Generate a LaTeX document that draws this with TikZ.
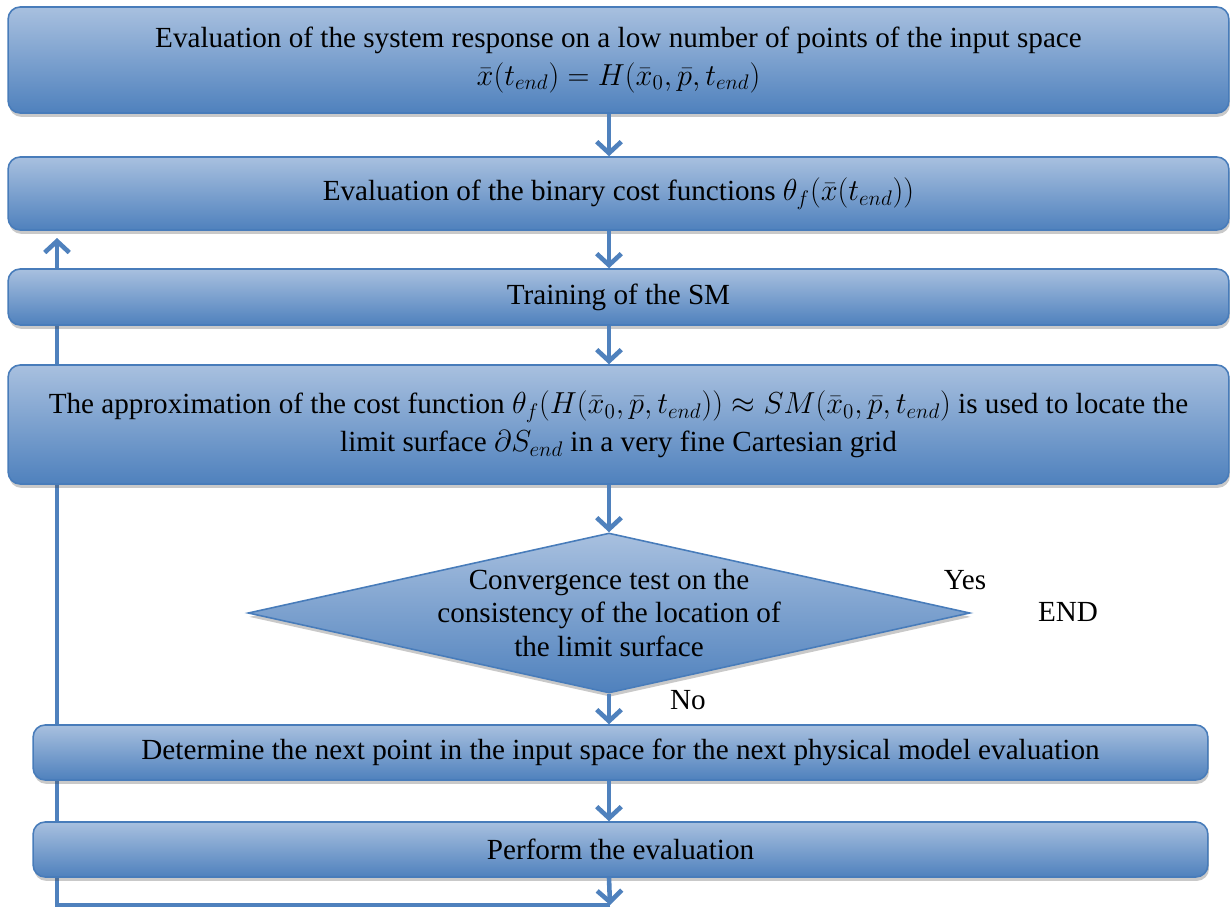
\documentclass[tikz,border=0pt]{standalone}
\usepackage{fontspec}
\setmainfont{Liberation Serif}
\usetikzlibrary{positioning}
\usetikzlibrary{shapes.geometric, shadows, arrows.meta, backgrounds}

\definecolor{boxtop}{RGB}{168,192,223}
\definecolor{boxbot}{RGB}{79,129,189}
\definecolor{boxline}{RGB}{72,124,186}

\tikzset{
  stepbox/.style={rectangle, rounded corners=0.24cm, draw=boxline, line width=0.9pt,
    top color=boxtop, bottom color=boxbot, inner sep=0pt, align=center,
    drop shadow={shadow xshift=0.6pt, shadow yshift=-2.2pt, opacity=0.3, fill=black!70}},
  testbox/.style={diamond, draw=boxline, line width=0.9pt, inner sep=0pt,
    top color=boxtop, bottom color=boxbot,
    drop shadow={shadow xshift=0.6pt, shadow yshift=-2.2pt, opacity=0.3, fill=black!70}},
  flow/.style={draw=boxbot, line width=2.6pt, -{Straight Barb[length=6.5pt,width=14pt]}},
  lbl/.style={font=\fontsize{16.6}{19.3}\selectfont}
}

\begin{document}
\begin{tikzpicture}[x=0.02cm, y=-0.02cm, font=\fontsize{16.6}{21.5}\selectfont]
\useasboundingbox (0,0) rectangle (1231,909);

\node[stepbox, minimum width=24.42cm, minimum height=2.12cm] (eval) at (618.5,60)
  {Evaluation of the system response on a low number of points of the input space\\
   $\bar{x}(t_{end}) = H(\bar{x}_0,\bar{p},t_{end})$};
\node[stepbox, minimum width=24.42cm, minimum height=1.46cm] (cost) at (618.5,193.5)
  {Evaluation of the binary cost functions $\theta_f\bigl(\bar{x}(t_{end})\bigr)$};
\node[stepbox, minimum width=24.42cm, minimum height=1.12cm] (train) at (618.5,297)
  {Training of the SM};
\node[stepbox, minimum width=24.42cm, minimum height=2.38cm] (approx) at (618.5,424.5)
  {The approximation of the cost function $\theta_f\bigl(H(\bar{x}_0,\bar{p},t_{end})\bigr) \approx SM(\bar{x}_0,\bar{p},t_{end})$ is used to locate the\\
   limit surface $\partial S_{end}$ in a very fine Cartesian grid};
\node[testbox, minimum width=14.44cm, minimum height=3.2cm,
  label={[lbl, align=center]center:Convergence test on the\\consistency of the location of\\the limit surface}] (conv) at (609,613) {};
\node[stepbox, minimum width=23.5cm, minimum height=1.1cm] (next) at (620.5,752.5)
  {Determine the next point in the input space for the next physical model evaluation};
\node[stepbox, minimum width=23.5cm, minimum height=1.1cm] (perform) at (620.5,849.5)
  {Perform the evaluation};

\node[lbl] (yes) at (965,580) {Yes};
\node[lbl] (end) at (1068,612) {END};
\node[lbl] (no) at (688,700) {No};

% arrows down the column
\draw[flow] (eval.south -| conv) -- (cost.north -| conv);
\draw[flow] (cost.south -| conv) -- (train.north -| conv);
\draw[flow] (train.south -| conv) -- (approx.north -| conv);
\draw[flow] (approx.south -| conv) -- (conv.north);
\draw[flow] (conv.south) -- (next.north -| conv);
\draw[flow] (next.south -| conv) -- (perform.north -| conv);

% loop back to the cost functions
\coordinate (loopend) at (610,905);
\coordinate (loopcorner) at (57,905);
\coordinate (looptop) at (57,238);
\draw[flow] (perform.south -| conv) -- (loopend);
\begin{scope}[on background layer]
\draw[flow] (loopend) -- (loopcorner) -- (looptop);
\end{scope}

\end{tikzpicture}
\end{document}
